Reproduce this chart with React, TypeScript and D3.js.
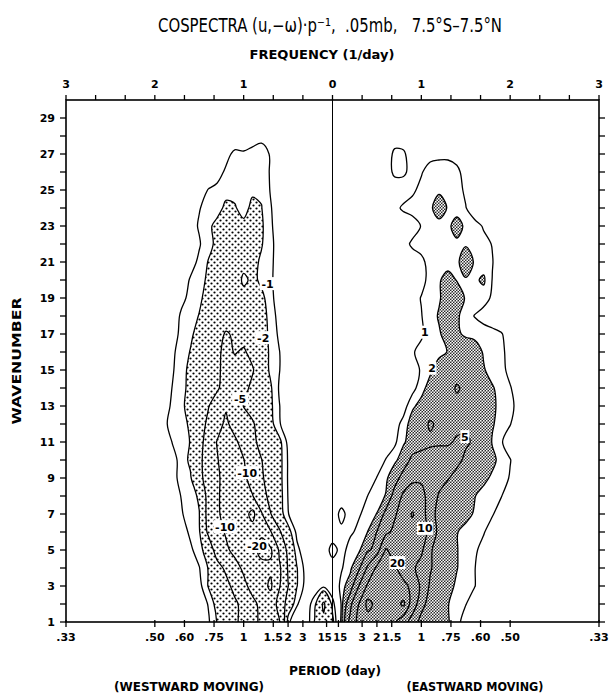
import React from 'react';
import * as d3 from 'd3';

// Cospectrum grid: one row per wavenumber (index 0 is k = 1),
// columns every 0.1 cycle/day. Westward columns run -2.1 .. -0.1, eastward 0.0 .. 2.2.
const freqStart = -2.1;
const freqStep = 0.1;
const topWavenumber = 30;

const westward: number[][] = [
  [0, 0, 0, 0, 0, 0, -0.2, -0.8, -2.05, -3.0, -4.4, -6.0, -8.5, -11.0, -12.0, -10.5, -1.2, -0.3, -0.2, -2.1, -4.5],
  [0, 0, 0, 0, 0, 0, -0.3, -1.05, -2.5, -3.2, -4.4, -6.0, -8.5, -11.5, -14.0, -8.0, -3.5, -1.1, -0.3, -1.6, -5.5],
  [0, 0, 0, 0, 0, -0.2, -0.6, -2.05, -2.8, -4.0, -6.0, -8.5, -12.0, -15.0, -22.0, -10.5, -5.1, -2.05, -0.6, -0.3, -0.7],
  [0, 0, 0, 0, 0, -0.3, -0.95, -2.05, -3.8, -5.6, -8.0, -11.0, -13.5, -16.0, -18.0, -11.0, -4.6, -2.05, -0.6, 0, 0],
  [0, 0, 0, 0, -0.2, -0.8, -1.5, -2.8, -6.5, -9.0, -11.5, -13.5, -15.5, -24.0, -22.0, -9.0, -4.0, -1.3, -0.3, 0, 0],
  [0, 0, 0, 0, -0.5, -1.2, -1.8, -5.5, -8.0, -10.5, -13.0, -14.5, -16.0, -18.0, -10.5, -5.5, -2.6, -0.7, -0.1, 0, 0],
  [0, 0, 0, -0.3, -0.9, -1.5, -1.95, -6.0, -9.0, -12.0, -14.5, -16.0, -23.0, -10.5, -5.2, -2.8, -1.05, -0.3, 0, 0, 0],
  [0, 0, 0, -0.5, -1.05, -1.5, -2.2, -6.0, -9.0, -12.5, -14.0, -12.5, -10.2, -6.5, -4.0, -2.6, -0.95, -0.2, 0, 0, 0],
  [0, 0, -0.1, -0.6, -1.4, -1.8, -4.0, -6.5, -8.8, -12.5, -13.0, -11.0, -8.0, -5.5, -3.5, -2.5, -0.9, -0.2, 0, 0, 0],
  [0, 0, -0.2, -0.7, -1.3, -2.3, -4.0, -7.0, -9.6, -12.5, -12.0, -10.2, -7.0, -5.1, -3.4, -2.5, -0.9, -0.2, 0, 0, 0],
  [0, 0, -0.4, -1.05, -1.5, -2.05, -3.8, -6.5, -10.2, -12.0, -11.0, -8.0, -5.8, -4.0, -3.0, -2.4, -0.7, 0, 0, 0, 0],
  [0, -0.2, -0.8, -1.3, -1.6, -2.2, -3.6, -5.6, -8.0, -11.0, -8.0, -6.5, -5.3, -3.8, -2.5, -1.1, -0.4, 0, 0, 0, 0],
  [0, 0, -0.5, -1.2, -1.8, -2.4, -3.2, -4.8, -6.5, -9.4, -7.0, -4.9, -4.0, -3.0, -2.3, -1.05, -0.3, 0, 0, 0, 0],
  [0, 0, -0.4, -1.05, -1.7, -2.3, -2.8, -3.5, -4.6, -6.2, -6.8, -6.0, -4.2, -3.0, -2.2, -0.9, -0.3, 0, 0, 0, 0],
  [0, 0, -0.2, -0.9, -1.6, -2.3, -2.9, -3.6, -4.5, -5.8, -6.2, -6.0, -5.3, -2.9, -1.8, -1.05, -0.3, 0, 0, 0, 0],
  [0, 0, 0, -0.8, -1.5, -2.05, -2.6, -3.3, -4.2, -6.0, -4.8, -5.4, -4.0, -2.8, -1.8, -1.05, -0.2, 0, 0, 0, 0],
  [0, 0, 0, -0.5, -1.3, -1.8, -2.4, -3.0, -3.8, -5.3, -4.6, -3.8, -3.4, -2.7, -1.7, -0.8, 0, 0, 0, 0, 0],
  [0, 0, 0, -0.3, -1.2, -1.6, -2.05, -2.6, -3.0, -3.4, -3.6, -3.3, -3.0, -2.6, -1.6, -0.6, 0, 0, 0, 0, 0],
  [0, 0, 0, 0, -0.7, -1.3, -1.8, -2.4, -2.8, -3.1, -3.2, -2.8, -2.7, -2.4, -1.3, -0.5, 0, 0, 0, 0, 0],
  [0, 0, 0, 0, -0.4, -1.1, -1.6, -2.2, -2.7, -3.0, -3.2, -1.6, -2.4, -1.7, -1.2, -0.5, 0, 0, 0, 0, 0],
  [0, 0, 0, 0, 0, -0.6, -1.2, -2.05, -2.5, -2.8, -2.9, -2.7, -2.4, -1.8, -1.25, -0.5, 0, 0, 0, 0, 0],
  [0, 0, 0, 0, 0, -0.4, -0.9, -1.6, -2.3, -2.6, -2.7, -2.6, -2.5, -2.1, -1.3, -0.5, 0, 0, 0, 0, 0],
  [0, 0, 0, 0, 0, -0.6, -1.1, -1.7, -2.4, -2.6, -2.4, -2.3, -2.6, -2.2, -1.2, -0.4, 0, 0, 0, 0, 0],
  [0, 0, 0, 0, 0, -0.3, -0.95, -1.3, -1.5, -2.3, -2.1, -1.6, -2.3, -2.05, -1.1, -0.4, 0, 0, 0, 0, 0],
  [0, 0, 0, 0, 0, 0, -0.3, -1.05, -1.3, -1.6, -1.7, -1.6, -1.8, -1.8, -0.95, -0.3, 0, 0, 0, 0, 0],
  [0, 0, 0, 0, 0, 0, 0, 0, -0.5, -1.2, -1.5, -1.5, -1.6, -1.7, -0.9, -0.2, 0, 0, 0, 0, 0],
  [0, 0, 0, 0, 0, 0, 0, 0, 0, -0.6, -1.3, -1.2, -1.4, -1.6, -0.9, -0.2, 0, 0, 0, 0, 0],
  [0, 0, 0, 0, 0, 0, 0, 0, 0, 0, 0, 0, -0.4, -0.6, 0, 0, 0, 0, 0, 0, 0],
];

const eastward: number[][] = [
  [-2.5, 1.3, 12.0, 24.0, 26.0, 25.0, 23.0, 21.0, 13.0, 7.0, 4.0, 3.0, 2.2, 2.1, 1.4, 0.4, 0, 0, 0, 0, 0, 0, 0],
  [-1.5, 1.1, 8.0, 20.5, 33.0, 27.0, 25.0, 26.0, 32.0, 14.0, 6.0, 3.8, 2.8, 2.05, 1.5, 1.05, 0.3, 0, 0, 0, 0, 0, 0],
  [0, 1.3, 3.0, 10.2, 22.0, 25.0, 24.0, 23.0, 22.0, 18.0, 8.0, 4.5, 3.2, 2.4, 1.8, 1.5, 1.05, 0.3, 0, 0, 0, 0, 0],
  [0.2, 0.9, 1.6, 4.5, 11.0, 22.0, 24.0, 21.0, 16.0, 11.0, 8.0, 5.3, 3.6, 2.8, 2.05, 1.5, 1.05, 0.3, 0, 0, 0, 0, 0],
  [1.6, 0.5, 1.5, 1.7, 4.6, 6.0, 21.0, 16.0, 14.0, 13.0, 11.0, 5.5, 3.2, 2.5, 2.05, 1.6, 1.2, 0.6, 0, 0, 0, 0, 0],
  [0, 0.6, 0.8, 1.3, 2.05, 5.1, 8.0, 12.0, 14.0, 16.0, 14.0, 7.5, 4.0, 2.6, 2.05, 1.7, 1.4, 1.1, 0.4, 0, 0, 0, 0],
  [0, 1.5, 0.3, 0.9, 1.4, 2.05, 6.0, 9.0, 14.0, 21.0, 13.0, 6.5, 3.8, 3.0, 2.6, 2.3, 1.9, 1.5, 1.1, 0.4, 0, 0, 0],
  [0, 0, 0, 0.1, 1.05, 1.3, 2.1, 6.5, 11.0, 12.5, 11.5, 8.0, 4.5, 3.4, 2.8, 2.3, 2.05, 1.6, 1.3, 1.05, 0.3, 0, 0],
  [0, 0, 0, 0, 0.2, 1.05, 1.6, 3.5, 6.5, 9.0, 9.2, 8.0, 6.8, 5.2, 4.0, 3.4, 2.8, 2.3, 1.8, 1.5, 0.9, 0.2, 0],
  [0, 0, 0, 0, 0, 0.3, 1.05, 1.6, 3.0, 6.0, 6.5, 6.8, 6.5, 6.2, 5.8, 4.4, 3.6, 3.0, 2.3, 1.6, 1.05, 0.3, 0],
  [0, 0, 0, 0, 0, 0, 0.3, 0.8, 1.8, 2.8, 3.6, 4.3, 4.6, 4.7, 5.3, 5.4, 4.6, 3.2, 1.9, 1.1, 0.4, 0, 0],
  [0, 0, 0, 0, 0, 0, 0.1, 0.5, 1.4, 2.6, 3.4, 5.5, 4.2, 4.3, 4.4, 4.5, 4.2, 3.4, 2.1, 1.6, 1.05, 0.3, 0],
  [0, 0, 0, 0, 0, 0, 0, 0.1, 0.5, 1.8, 2.4, 2.8, 3.2, 3.6, 4.0, 4.3, 3.8, 3.2, 2.2, 1.7, 1.3, 0.6, 0],
  [0, 0, 0, 0, 0, 0, 0, 0, 0.1, 0.6, 1.6, 2.5, 3.0, 3.6, 5.4, 4.2, 3.6, 3.0, 2.1, 1.6, 1.1, 0.3, 0],
  [0, 0, 0, 0, 0, 0, 0, 0, 0.1, 0.6, 1.1, 1.8, 2.6, 3.0, 3.4, 3.6, 3.0, 2.1, 1.6, 1.4, 0.6, 0, 0],
  [0, 0, 0, 0, 0, 0, 0, 0, 0.2, 0.9, 1.3, 1.5, 1.7, 2.05, 2.6, 2.9, 2.6, 1.9, 1.6, 1.3, 0.5, 0, 0],
  [0, 0, 0, 0, 0, 0, 0, 0, 0, 0.3, 0.85, 1.5, 1.9, 2.4, 2.2, 1.8, 1.7, 1.6, 1.4, 1.1, 0.4, 0, 0],
  [0, 0, 0, 0, 0, 0, 0, 0, 0.1, 0.5, 0.95, 1.6, 2.1, 2.5, 2.2, 1.5, 0.95, 0.5, 0.2, 0, 0, 0, 0],
  [0, 0, 0, 0, 0, 0, 0, 0, 0.2, 0.6, 1.05, 1.5, 1.9, 2.5, 2.6, 1.9, 1.6, 1.5, 0.8, 0.2, 0, 0, 0],
  [0, 0, 0, 0, 0, 0, 0, 0, 0, 0.3, 0.7, 1.3, 1.9, 2.4, 1.95, 1.9, 1.8, 2.2, 0.95, 0.3, 0, 0, 0],
  [0, 0, 0, 0, 0, 0, 0, 0, 0, 0.4, 0.8, 1.3, 1.5, 1.6, 1.8, 2.6, 1.9, 1.5, 1.05, 0.3, 0, 0, 0],
  [0, 0, 0, 0, 0, 0, 0, 0.1, 0.6, 1.2, 1.3, 1.4, 1.5, 1.7, 1.8, 1.9, 1.7, 1.3, 0.95, 0.2, 0, 0, 0],
  [0, 0, 0, 0, 0, 0, 0, 0, 0.2, 0.5, 1.05, 1.4, 1.6, 1.8, 2.4, 1.8, 1.4, 0.9, 0.2, 0, 0, 0, 0],
  [0, 0, 0, 0, 0, 0, 0.2, 0.7, 1.2, 1.4, 1.5, 1.8, 2.6, 1.9, 1.6, 1.05, 0.3, 0, 0, 0, 0, 0, 0],
  [0, 0, 0, 0, 0, 0, 0, 0.2, 0.4, 0.8, 1.3, 1.6, 1.8, 1.7, 1.4, 0.8, 0.2, 0, 0, 0, 0, 0, 0],
  [0, 0, 0, 0, 0, 0, 0.3, 1.3, 1.2, 0.6, 0.9, 1.5, 1.6, 1.6, 1.3, 0.5, 0.1, 0, 0, 0, 0, 0, 0],
  [0, 0, 0, 0, 0, 0, 0.2, 1.3, 1.2, 0.3, 0.2, 0.6, 0.7, 0.7, 0.5, 0.1, 0, 0, 0, 0, 0, 0, 0],
  [0, 0, 0, 0, 0, 0, 0, 0.3, 0.3, 0, 0, 0, 0, 0, 0, 0, 0, 0, 0, 0, 0, 0, 0],
];

const eastLevels = [1, 2, 5, 10, 20, 30];
const westLevels = [1, 2, 5, 10, 20];

const freqLabelTicks = [-3, -2, -1, 0, 1, 2, 3];
const periodDays = [1 / 3, 0.5, 0.6, 0.75, 1, 1.5, 2, 3, 15];
const periodLabels = ['.33', '.50', '.60', '.75', '1', '1.5', '2', '3', '15'];

const contourLabels = [
  { text: '-1', f: -0.73, k: 19.8 },
  { text: '-2', f: -0.78, k: 16.8 },
  { text: '-5', f: -1.04, k: 13.4 },
  { text: '-10', f: -0.96, k: 9.3 },
  { text: '-10', f: -1.21, k: 6.3 },
  { text: '-20', f: -0.85, k: 5.2 },
  { text: '1', f: 1.04, k: 17.1 },
  { text: '2', f: 1.12, k: 15.1 },
  { text: '5', f: 1.49, k: 11.3 },
  { text: '10', f: 1.04, k: 6.2 },
  { text: '20', f: 0.73, k: 4.3 },
];

const font = "'DejaVu Sans', 'Open Sans', sans-serif";
const narrow = "'Liberation Sans Narrow', 'DejaVu Sans Condensed', 'Liberation Sans', sans-serif";

export default function App() {
  const width = 612, height = 694;
  const left = 66, right = 599, top = 100, bottom = 622;

  const x = d3.scaleLinear().domain([-3, 3]).range([left, right]);
  const y = d3.scaleLinear().domain([1, topWavenumber]).range([bottom, top]);

  // assemble grid, top row first, with the k=1 row repeated below so contours run off the axis
  const nCols = westward[0].length + eastward[0].length;
  const rows = d3.range(topWavenumber).map((i) =>
    i < westward.length ? westward[i].concat(eastward[i]) : new Array(nCols).fill(0)
  );
  const grid = rows.slice().reverse().concat([rows[0]]);
  const nRows = grid.length;
  const values = grid.flat();

  const gx = (c: number) => x(freqStart + (c - 0.5) * freqStep);
  const gy = (r: number) => y(topWavenumber - (r - 0.5));

  const eastContours = d3.contours().size([nCols, nRows]).thresholds(eastLevels)(values);
  const westContours = d3.contours().size([nCols, nRows]).thresholds(westLevels)(values.map((v) => -v));

  const ring = d3.line<number[]>()
    .x((p) => gx(p[0]))
    .y((p) => gy(p[1]))
    .curve(d3.curveCatmullRomClosed.alpha(0.5));

  const toPath = (mp: any) =>
    mp.coordinates
      .map((poly: number[][][]) => poly.map((r) => ring(r.slice(0, -1))).join(''))
      .join('');

  const freqTicks = d3.range(-9, 10).map((i) => i / 3);
  const waveTicks = d3.range(1, topWavenumber);

  return (
    <div style={{ position: 'absolute', left: 0, top: 0 }}>
      <svg width={width} height={height} style={{ display: 'block', background: '#fff' }}>
        <defs>
          <clipPath id="plotArea">
            <rect x={left} y={top} width={right - left} height={bottom - top} />
          </clipPath>
          <pattern id="stipple" width={6} height={6} patternUnits="userSpaceOnUse">
            <circle cx={1.5} cy={1.5} r={1.1} fill="#000" />
            <circle cx={4.5} cy={4.5} r={1.1} fill="#000" />
          </pattern>
          <pattern id="screen" width={3} height={3} patternUnits="userSpaceOnUse">
            <rect width={3} height={3} fill="#2a2a2a" />
            <circle cx={0.75} cy={0.75} r={0.88} fill="#fff" />
            <circle cx={2.25} cy={2.25} r={0.88} fill="#fff" />
          </pattern>
        </defs>

        {/* title */}
        <text x={158} y={32} fontFamily={narrow} fontSize={19} textLength={344} lengthAdjust="spacingAndGlyphs"
          style={{ whiteSpace: 'pre' }}>
          {'COSPECTRA (u,−ω)·p⁻¹,  .05mb,   7.5°S–7.5°N'}
        </text>
        <text x={322} y={59} textAnchor="middle" fontFamily={font} fontWeight="bold" fontSize={12.5}
          textLength={145} lengthAdjust="spacingAndGlyphs">FREQUENCY (1/day)</text>

        <g clipPath="url(#plotArea)">
          <line x1={x(0)} x2={x(0)} y1={top} y2={bottom} stroke="#000" strokeWidth={1} />
          {westContours[1] && <path d={toPath(westContours[1])} fill="url(#stipple)" fillRule="evenodd" />}
          {eastContours[1] && <path d={toPath(eastContours[1])} fill="url(#screen)" fillRule="evenodd" />}
          {westContours.concat(eastContours).map((c, i) => (
            <path key={i} d={toPath(c)} fill="none" stroke="#000" strokeWidth={1.3} strokeLinejoin="round" />
          ))}
          {contourLabels.map((l, i) => {
            const w = l.text.length * 7 + 2;
            return (
              <g key={i} transform={`translate(${x(l.f)},${y(l.k)})`}>
                <rect x={-w / 2} y={-6.5} width={w} height={13} fill="#fff" />
                <text textAnchor="middle" dy="0.36em" fontFamily={font} fontWeight="bold" fontSize={11}>{l.text}</text>
              </g>
            );
          })}
        </g>

        {/* frame */}
        <rect x={left} y={top} width={right - left} height={bottom - top} fill="none" stroke="#000" strokeWidth={1.6} />

        {/* top frequency axis */}
        {freqTicks.map((f, i) => (
          <line key={i} x1={x(f)} x2={x(f)} y1={top} y2={top - 5} stroke="#000" strokeWidth={1.3} />
        ))}
        {freqLabelTicks.map((f, i) => (
          <text key={i} x={x(f)} y={88} textAnchor="middle" fontFamily={font} fontWeight="bold" fontSize={11}>
            {Math.abs(f)}
          </text>
        ))}

        {/* wavenumber axes */}
        {waveTicks.map((k) => (
          <g key={k}>
            <line x1={left} x2={left - 6} y1={y(k)} y2={y(k)} stroke="#000" strokeWidth={1.3} />
            <line x1={right} x2={right + 6} y1={y(k)} y2={y(k)} stroke="#000" strokeWidth={1.3} />
            {k % 2 === 1 && (
              <text x={55} y={y(k)} dy="0.36em" textAnchor="end" fontFamily={font} fontWeight="bold" fontSize={11}>{k}</text>
            )}
          </g>
        ))}
        <text transform={`translate(21,${y(15.5)}) rotate(-90)`} textAnchor="middle" fontFamily={font}
          fontWeight="bold" fontSize={11.5} textLength={127} lengthAdjust="spacingAndGlyphs">WAVENUMBER</text>

        {/* bottom period axis, both directions */}
        {[-1, 1].map((side) =>
          periodDays.map((p, i) => {
            const px = x(side / p);
            const closeToZero = p > 10;
            return (
              <g key={`${side}-${i}`}>
                <line x1={px} x2={px} y1={bottom - 2} y2={bottom + 5} stroke="#000" strokeWidth={1.3} />
                <text x={closeToZero ? x(0) + side * 0.8 : px} y={641}
                  textAnchor={closeToZero ? (side < 0 ? 'end' : 'start') : 'middle'}
                  fontFamily={font} fontWeight="bold" fontSize={closeToZero ? 10 : 11}>
                  {periodLabels[i]}
                </text>
              </g>
            );
          })
        )}
        <text x={335} y={675} textAnchor="middle" fontFamily={font} fontWeight="bold" fontSize={12}
          textLength={92} lengthAdjust="spacingAndGlyphs">PERIOD (day)</text>
        <text x={189} y={691} textAnchor="middle" fontFamily={font} fontWeight="bold" fontSize={12}
          textLength={150} lengthAdjust="spacingAndGlyphs">(WESTWARD MOVING)</text>
        <text x={475} y={691} textAnchor="middle" fontFamily={font} fontWeight="bold" fontSize={12}
          textLength={137} lengthAdjust="spacingAndGlyphs">(EASTWARD MOVING)</text>
      </svg>
    </div>
  );
}
